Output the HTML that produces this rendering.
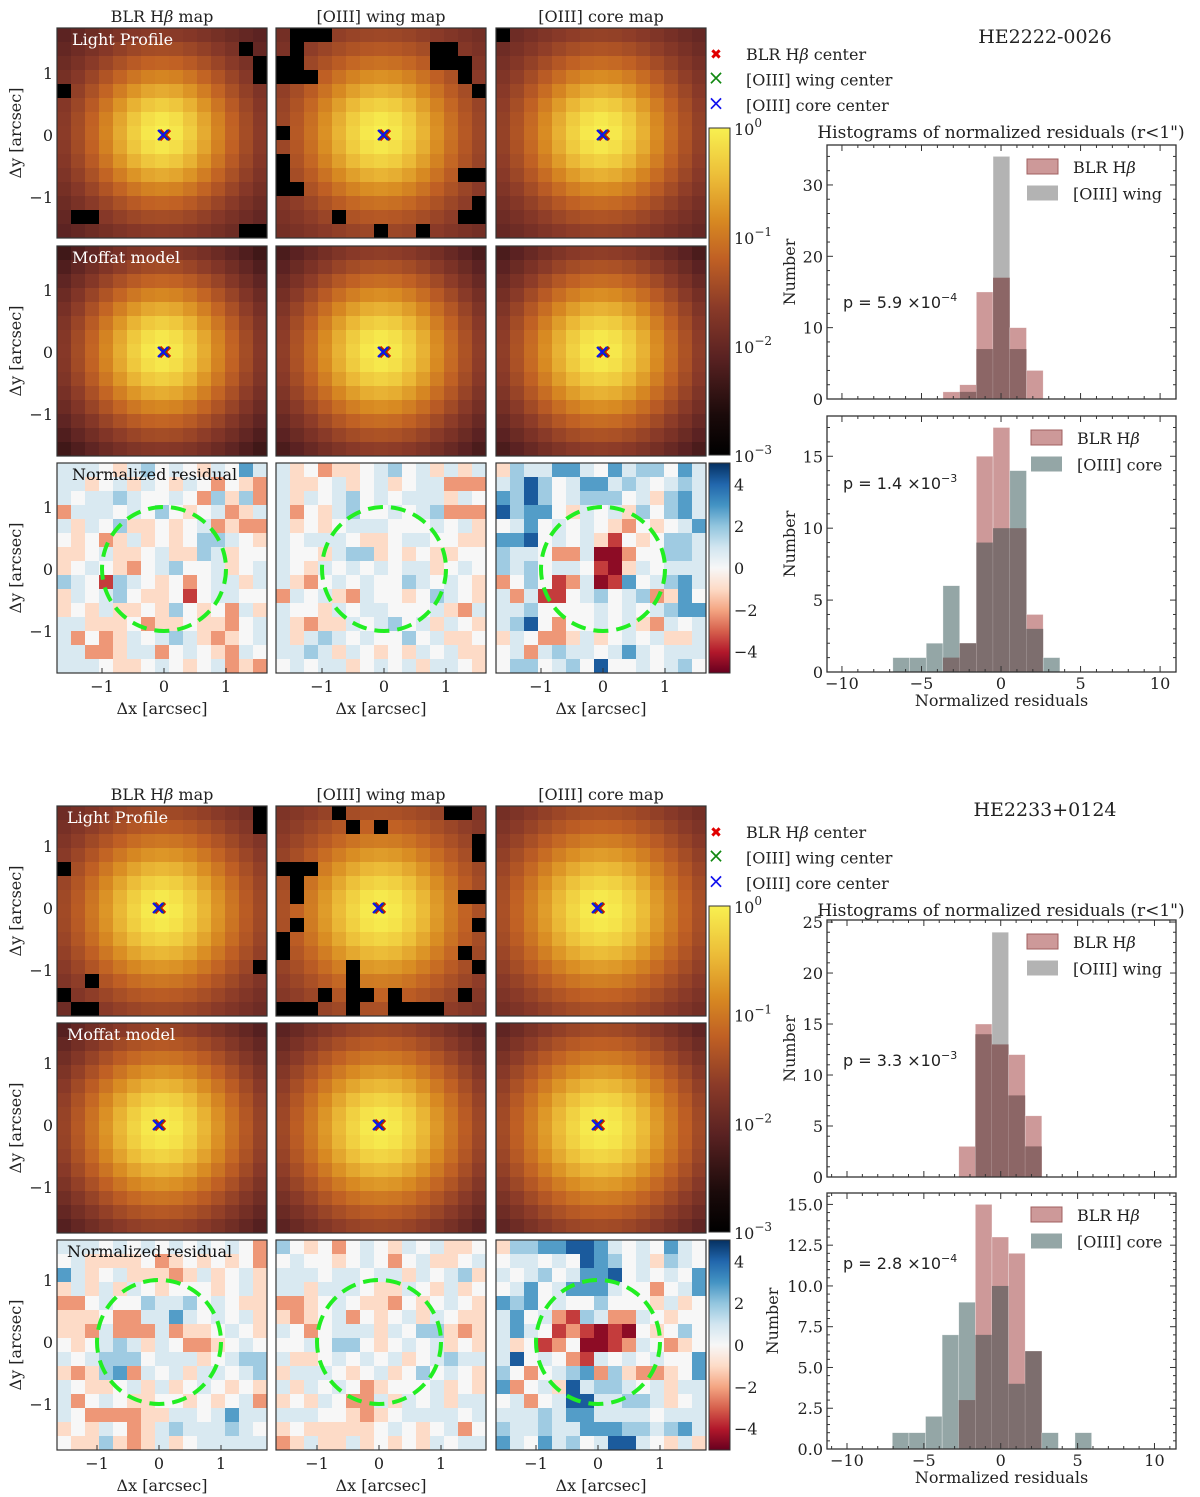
<!DOCTYPE html>
<html><head><meta charset="utf-8">
<style>
html,body{margin:0;padding:0;background:#fff;}
svg{display:block;}
text{font-family:"DejaVu Serif","Liberation Serif",serif;fill:#222;}
.dv{font-family:"DejaVu Serif","Liberation Serif",serif;}
.ds{font-family:"DejaVu Sans","Liberation Sans",sans-serif;}
</style></head>
<body>
<svg id="fig" xmlns="http://www.w3.org/2000/svg" width="1200" height="1497" viewBox="0 0 1200 1497">
<defs>
<linearGradient id="gLog" x1="0" y1="1" x2="0" y2="0">
<stop offset="0" stop-color="#000000"/><stop offset="0.12" stop-color="#1a0a0a"/><stop offset="0.3" stop-color="#5a2222"/><stop offset="0.45" stop-color="#8a3a28"/><stop offset="0.6" stop-color="#c06024"/><stop offset="0.72" stop-color="#d88a22"/><stop offset="0.85" stop-color="#ecbc38"/><stop offset="1" stop-color="#f8f050"/>
</linearGradient>
<linearGradient id="gRd" x1="0" y1="1" x2="0" y2="0">
<stop offset="0" stop-color="#67001f"/><stop offset="0.1" stop-color="#b2182b"/><stop offset="0.2" stop-color="#d6604d"/><stop offset="0.3" stop-color="#f4a582"/><stop offset="0.4" stop-color="#fddbc7"/><stop offset="0.5" stop-color="#f7f7f7"/><stop offset="0.6" stop-color="#d1e5f0"/><stop offset="0.7" stop-color="#92c5de"/><stop offset="0.8" stop-color="#4393c3"/><stop offset="0.9" stop-color="#2166ac"/><stop offset="1" stop-color="#053061"/>
</linearGradient>
</defs>
</svg>
<script>
// ---------- data ----------
const histXTicks = [-10,-5,0,5,10];
const h1Blr  = [0,0,0,1,2,15,17,10,4,0];
const h1Wing = [0,0,0,0,1,7,34,7,0,0];
const h2Blr  = [0,0,0,1,2,15,17,10,4,0];
const h2Core = [1,1,2,6,2,9,10,14,3,1];
const h3Blr  = [0,0,0,0,3,15,13,12,6,0,0,0];
const h3Wing = [0,0,0,0,0,14,24,8,3,0,0,0];
const h4Blr  = [0,0,0,0,3,15,13,12,6,0,0,0];
const h4Core = [1,1,2,7,9,7,10,4,6,1,0,1];
const h1YTicks = [0,10,20,30];
const h2YTicks = [0,5,10,15];
const h3YTicks = [0,5,10,15,20,25];
const h4YTicks = [0,2.5,5,7.5,10,12.5,15];
const h4YLabels = ["0.0","2.5","5.0","7.5","10.0","12.5","15.0"];
const pValues = ["5.9","1.4","3.3","2.8"];
const pExps = ["−4","−3","−3","−4"];

// profile params per panel [alpha, beta, floor]
const f1Light = [[0.8,2.5,0.004],[0.86,2.5,0.008],[0.84,2.5,0.005]];
const f1Model = [[0.82,2.5,0.0],[0.86,2.5,0.0],[0.86,2.5,0.0]];
const f2Light = [[0.9,2.5,0.005],[0.93,2.5,0.009],[0.95,2.5,0.005]];
const f2Model = [[0.9,2.5,0.0],[0.93,2.5,0.0],[0.95,2.5,0.0]];
const f1Black = [
 [[1,13],[2,14],[3,14],[4,0],[13,1],[13,2],[14,13],[14,14]],
 [[0,1],[0,2],[0,3],[1,1],[2,0],[2,1],[3,0],[3,1],[3,2],[1,11],[1,12],[2,11],[2,12],[2,13],[3,13],[4,14],[7,0],[9,0],[10,0],[11,0],[11,1],[10,13],[10,14],[12,14],[13,13],[13,14],[14,7],[14,10],[13,4]],
 [[0,0]]
];
const f2Black = [
 [[0,14],[1,14],[4,0],[11,14],[12,2],[13,0],[14,1],[14,2]],
 [[0,4],[0,12],[0,13],[1,5],[1,7],[2,14],[3,14],[4,0],[4,1],[4,2],[5,1],[6,1],[6,13],[6,14],[8,1],[8,14],[9,0],[10,0],[10,13],[11,5],[11,14],[12,5],[13,3],[13,5],[13,6],[13,8],[13,13],[14,0],[14,1],[14,2],[14,5],[14,8],[14,9],[14,10],[14,11]],
 []
];
const resCode = {R:-4.5,r:-3.5,o:-2.2,p:-1,'.':0,l:0.8,b:1.8,B:2.8,N:4.2};
const f1Res = [[
"lll.plb.l.pl.Bl","llp.lpl.pl.o.po","l.llbl..l.obpbo","olll.l.b.p.lopl","lpl.bpp.p.lopoo",
".p.oplp.p.bbl.p","pp.lpp.lppblp..","p.l.po.lb..lp.l","bl.rbl.p.o.llpl","pl.lb.pp.r.ll..",
"p.plpp.pb.p.olp","llppp.opp.ppo.l","lo.opl.lblpop.l","lloopllo.l.pol.","lll.pp.l.p.lopo"],[
"lp.opp.lb.lplpl","lpp.lp.lp.llooo","lpl.lb.l.lllpl.","lo.plb..l.lbooo","lp.p.lll...l.lp",
"l.lll.pp.ll..pp","l..plbbp.p.pp..","l.pl.l.l.llp.l.","lpo.l.l..bl.l.p","ol.lpol..p.bl.p",
"l..pl.ll...lpol","lpoppl.lb.lpl.p","lplbl.l..b.lpp.","llblpl.p.pl.lpp",".l.llp.l.lpll.p"],[
"pbllBBl.Blbb.Bl","lbNb.lBBlbl.lbl","BbNb.lbbb.lpbBl","NbBB.pl.lpb.bBl",".lB.l.l.po.p.lB",
"BBN.l.lpr.p.bbl","bll.oolRRo..bbl","blb.ll.rRpl.lll","o.b.rolRrB.lbBl","lolrr.lb.lbopB.",
"llb....l.l.lbBB","lbN.o..l.lpol.l","pl.ooplp.l.lppl",".lolbll.lBl.lll",".bb.lb.N..l.lb."]];
const f2Res = [[
"lll.l.l.l.l.l.o",".lpppp.op.p.p.o","Blp.lpppoplp.lp","plplpl.p...p.lp","oo.l..bllb.l.pp",
"ppp.oollBl.l.lp","ppolooolopp.l.p",".p.lblpl.oop.l.","l.lbbb.lllp.lbb","popbBol.lpll.lb",
"l.pp.lplp.l.p.p","lo.l.pp..p.p.lo","l.ooooppll.lBll","p.pl.oplblllbl.",".ppbpoplp.lllll"],[
"b.p.o.l.pl.lpp.",".l..p.l.o.lpp.l","lll.ll.llpl.lbp","llplll.ppl.plp.","oop.l.ppo.p.l.p",
"pop.lo.p.lpl.pp","l.o.lllpl.bbpop","..l.bb.p.l.lp.p","lpp.l.l.lp.lbll","plll.p.lp.b.l.p",
"lpl.l.op...lp.p","p.pl.oolpl.lpll","lll..pop.llll.l","p.ppppp.l.p.lo.","oplpplp.p.pl.ll"],[
"pbbBBNNBl.l.Bl.",".ll.l.NBb.lpbl.","l.lb.lBBN.l.l.B",".lB.lBBBl..o.lB","BbB.l..b...plp.",
"lB.lorblool.p..","lBl.rorRrR.p.b.","lp.ro.RRrol.op.","lN.l.orl.l.l..B","b.o.lbBobpoop.B",
"Bo.lpNlbbl.lpll",".lo.lNNllbblp.l","lllblBBllll.lll","bllbllBBBbblbBl","Bl.Blb.lNNl.plp"]];

// ---------- helpers ----------
const NS="http://www.w3.org/2000/svg";
const svg=document.getElementById('fig');
function mk(tag,attrs,parent){const e=document.createElementNS(NS,tag);for(const k in attrs)e.setAttribute(k,attrs[k]);(parent||svg).appendChild(e);return e;}
function hex(h){return [parseInt(h.slice(1,3),16),parseInt(h.slice(3,5),16),parseInt(h.slice(5,7),16)];}
const logStops=[[0,'#000000'],[0.12,'#1a0a0a'],[0.3,'#5a2222'],[0.45,'#8a3a28'],[0.6,'#c06024'],[0.72,'#d88a22'],[0.85,'#ecbc38'],[1,'#f8f050']];
function logColor(v){let t=(Math.log10(Math.max(v,1e-4))+3)/3;t=Math.max(0,Math.min(1,t));for(let i=0;i<logStops.length-1;i++){const [t0,c0]=logStops[i],[t1,c1]=logStops[i+1];if(t<=t1){const f=(t-t0)/(t1-t0);const a=hex(c0),b=hex(c1);return 'rgb('+a.map((x,k)=>Math.round(x+(b[k]-x)*f)).join(',')+')';}}return '#f8f050';}
const rdStops=['#67001f','#b2182b','#d6604d','#f4a582','#fddbc7','#f7f7f7','#d1e5f0','#92c5de','#4393c3','#2166ac','#053061'];
function rdColor(v){let t=(v+5)/10;t=Math.max(0,Math.min(1,t));const n=rdStops.length-1;const i=Math.min(n-1,Math.floor(t*n));const f=t*n-i;const a=hex(rdStops[i]),b=hex(rdStops[i+1]);return 'rgb('+a.map((x,k)=>Math.round(x+(b[k]-x)*f)).join(',')+')';}
function txt(x,y,s,attrs){const e=mk('text',Object.assign({x:x,y:y},attrs||{}));e.textContent=s;return e;}

const CELL=14,NPIX=15,PIXSZ=0.226,SCALE=62;

function drawProfilePanel(x0,y0,par,blacks,name){
  const g=mk('g',{});
  
  
  const bl=new Set(blacks.map(b=>b[0]+','+b[1]));
  for(let i=0;i<NPIX;i++)for(let j=0;j<NPIX;j++){
    const r=Math.hypot(i-7,j-7)*PIXSZ;
    let v=Math.pow(1+(r/par[0])**2,-par[1])+par[2];
    if(bl.has(i+','+j))v=0.0008;
    const c=mk('rect',{x:x0+j*CELL,y:y0+i*CELL,width:CELL+0.5,height:CELL+0.5,fill:logColor(v)},g);
    
    
  }
  const f=mk('rect',{x:x0,y:y0,width:210,height:210,fill:'none',stroke:'#333','stroke-width':1.2},g);
  
  
}
function drawResPanel(x0,y0,rows,name){
  const g=mk('g',{});
  
  
  for(let i=0;i<NPIX;i++)for(let j=0;j<NPIX;j++){
    const v=resCode[rows[i][j]]||0;
    const c=mk('rect',{x:x0+j*CELL,y:y0+i*CELL,width:CELL+0.5,height:CELL+0.5,fill:rdColor(v)},g);
    
    
  }
  const f=mk('rect',{x:x0,y:y0,width:210,height:210,fill:'none',stroke:'#333','stroke-width':1.2},g);
  
  
}
function markers(cx,cy){
  const g=mk('g',{});
  
  
  const d=5;
  [['#e00000',3.2,1],['#118811',2,0],['#1010ee',2.2,-1]].forEach(([c,w,o])=>{
    const p=mk('path',{d:`M${cx-d+o},${cy-d}L${cx+d+o},${cy+d}M${cx-d+o},${cy+d}L${cx+d+o},${cy-d}`,stroke:c,'stroke-width':w,fill:'none'},g);
    
    
  });
}
function circle(cx,cy){
  const c=mk('circle',{cx:cx,cy:cy,r:SCALE,fill:'none',stroke:'#22ee22','stroke-width':4,'stroke-dasharray':'15,8'});
  
  
}

function drawFigure(F){
  const colX=[57,276,496];
  const titles=['BLR Hβ map','[OIII] wing map','[OIII] core map'];
  titles.forEach((t,k)=>{
    const e=txt(colX[k]+105,F.titleY,'',{'text-anchor':'middle','font-size':16});
    e.innerHTML=t.replace('β','<tspan font-style="italic">β</tspan>');
    
    
  });
  for(let k=0;k<3;k++){
    drawProfilePanel(colX[k],F.rowY[0],F.light[k],F.black[k],'light-profile-panel');
    drawProfilePanel(colX[k],F.rowY[1],F.model[k],[],'moffat-model-panel');
    drawResPanel(colX[k],F.rowY[2],F.res[k],'residual-panel');
    markers(F.zeroX[k],F.zeroY[0]);
    markers(F.zeroX[k],F.zeroY[1]);
    circle(F.zeroX[k],F.zeroY[2]);
    [-1,0,1].forEach(v=>{
      const e=txt(F.zeroX[k]+v*SCALE,F.rowY[2]+229,v<0?'−1':String(v),{'text-anchor':'middle','font-size':16});
      
      
      mk('line',{x1:F.zeroX[k]+v*SCALE,x2:F.zeroX[k]+v*SCALE,y1:F.rowY[2]+210,y2:F.rowY[2]+205,stroke:'#333'});
    });
    const xl=txt(colX[k]+105,F.rowY[2]+251,'Δx [arcsec]',{'text-anchor':'middle','font-size':16});
    
    
  }
  for(let r=0;r<3;r++){
    [1,0,-1].forEach(v=>{
      const e=txt(53,F.zeroY[r]-v*SCALE+6,v<0?'−1':String(v),{'text-anchor':'end','font-size':16});
      
      
    });
    const yl=txt(0,0,'Δy [arcsec]',{'text-anchor':'middle','font-size':16,transform:`translate(21,${F.rowY[r]+105}) rotate(-90)`});
    
    
  }
  const lbls=[['Light Profile','#fff',0],['Moffat model','#fff',1],['Normalized residual','#111',2]];
  lbls.forEach(([s,c,r])=>{
    const e=txt(F.lblX,F.rowY[r]+17,s,{'font-size':16,fill:c,style:'fill:'+c});
    
    
  });
  const cb1=mk('rect',{x:709,y:F.cb1[0],width:21,height:F.cb1[1]-F.cb1[0],fill:'url(#gLog)',stroke:'#333'});
  
  
  ['0','−1','−2','−3'].forEach((ex,i)=>{
    const y=F.cb1[0]+i*(F.cb1[1]-F.cb1[0])/3;
    const e=txt(734,y+7,'',{'font-size':16});
    e.innerHTML='10<tspan dy="-8" font-size="12">'+ex+'</tspan>';
    
    
  });
  const cb2=mk('rect',{x:709,y:F.rowY[2],width:21,height:210,fill:'url(#gRd)',stroke:'#333'});
  
  
  [4,2,0,-2,-4].forEach(v=>{
    const y=F.rowY[2]+105-v*20.9;
    const e=txt(734,y+6,v<0?'−'+(-v):String(v),{'font-size':16});
    
    
  });
  const lg=[['BLR Hβ center','#e00000','✖'],['[OIII] wing center','#118811','×'],['[OIII] core center','#1010ee','×']];
  lg.forEach(([s,c,m],i)=>{
    const y=F.legY+i*25.5;
    const mkk=txt(716,y+5,m,{'text-anchor':'middle','font-size':m==='✖'?14:20,fill:c,style:'fill:'+c,class:'ds'});
    
    
    const e=txt(746,y+6,'',{'font-size':16});
    e.innerHTML=s.replace('β','<tspan font-style="italic">β</tspan>');
    
    
  });
  const t=txt(1045,F.nameY,F.name,{'text-anchor':'middle','font-size':19});
  
  
  const ht=txt(1001,F.histTitleY,'Histograms of normalized residuals (r<1")',{'text-anchor':'middle','font-size':17});
  
  
}

function drawHist(H){
  const {x0,x1,y0,y1,xmin,xmax,ymax}=H;
  const X=v=>x0+(v-xmin)/(xmax-xmin)*(x1-x0);
  const Y=v=>y1-v/ymax*(y1-y0);
  const g=mk('g',{});
  
  
  const bw=H.width;
  for(let k=0;k<H.blr.length;k++){
    const a=H.blr[k],b=H.other[k];
    const xa=X(H.start+k*bw),xb=X(H.start+(k+1)*bw);
    const hi=Math.max(a,b),lo=Math.min(a,b);
    if(hi>0){
      const r=mk('rect',{x:xa,y:Y(hi),width:xb-xa,height:Y(0)-Y(hi),fill:a>=b?'#cd9999':H.otherColor,stroke:'rgba(255,255,255,0.5)','stroke-width':0.6},g);
      
      
    }
    if(lo>0){
      const r=mk('rect',{x:xa,y:Y(lo),width:xb-xa,height:Y(0)-Y(lo),fill:H.overlapColor},g);
      
      
    }
  }
  const fr=mk('rect',{x:x0,y:y0,width:x1-x0,height:y1-y0,fill:'none',stroke:'#333','stroke-width':1.3},g);
  
  
  for(let v=-11;v<=11;v++){ if(v<xmin||v>xmax)continue;
    const maj=v%5===0,L=maj?6:3,x=X(v);
    mk('line',{x1:x,x2:x,y1:y1,y2:y1-L,stroke:'#333'},g);
    mk('line',{x1:x,x2:x,y1:y0,y2:y0+L,stroke:'#333'},g);
  }
  if(H.xlabels){histXTicks.forEach(v=>{
    const e=txt(X(v),y1+17,v<0?'−'+(-v):String(v),{'text-anchor':'middle','font-size':16,class:'dv'});
    
    
  });
    const xt=txt((x0+x1)/2,y1+34,'Normalized residuals',{'text-anchor':'middle','font-size':16});
    
    
  }
  for(let v=0;v<=ymax+1e-9;v+=H.minor){
    const y=Y(v);const maj=H.yticks.some(t=>Math.abs(t-v)<1e-6);const L=maj?6:3;
    mk('line',{x1:x0,x2:x0+L,y1:y,y2:y,stroke:'#333'},g);
    mk('line',{x1:x1,x2:x1-L,y1:y,y2:y,stroke:'#333'},g);
  }
  H.yticks.forEach((v,i)=>{
    const e=txt(x0-4,Y(v)+6,H.ylabels?H.ylabels[i]:String(v),{'text-anchor':'end','font-size':16,class:'dv'});
    
    
  });
  const yl=txt(0,0,'Number',{'text-anchor':'middle','font-size':16,transform:`translate(${H.ylx},${(y0+y1)/2}) rotate(-90)`});
  
  
  const pt=txt(843,H.pY,'',{'font-size':16,class:'ds'});
  pt.innerHTML='p = '+H.p+' ×10<tspan dy="-7" font-size="11">'+H.pe+'</tspan>';
  
  
  [['#cd9999','BLR Hβ'],[H.otherColor,H.otherName]].forEach(([c,s],i)=>{
    const y=y0+22+i*26.5;
    const p=mk('rect',{x:H.legX,y:y-8,width:31,height:15,fill:c,stroke:i===0?'#a06060':'none'},g);
    
    
    const e=txt(H.legX+46,y+6,'',{'font-size':16});
    e.innerHTML=s.replace('β','<tspan font-style="italic">β</tspan>');
    
    
  });
}

drawFigure({titleY:22,rowY:[28,246,463],zeroX:[164,384,603],zeroY:[135,352,569],lblX:72,
  light:f1Light,model:f1Model,black:f1Black,res:f1Res,cb1:[128,455],legY:54,name:'HE2222-0026',nameY:43,histTitleY:138});
drawFigure({titleY:800,rowY:[806,1023,1240],zeroX:[159,379,598],zeroY:[908,1125,1342],lblX:67,
  light:f2Light,model:f2Model,black:f2Black,res:f2Res,cb1:[906,1232],legY:832,name:'HE2233+0124',nameY:816,histTitleY:916});

drawHist({name:'hist-hb-vs-wing-1',x0:827,x1:1176,y0:145,y1:399,xmin:-10.94,xmax:11.0,ymax:35.6,start:-6.8,width:1.05,
  blr:h1Blr,other:h1Wing,otherColor:'#b3b3b3',overlapColor:'#8c6666',otherName:'[OIII] wing',yticks:h1YTicks,minor:2,
  xlabels:false,ylx:795,pY:308,p:pValues[0],pe:pExps[0],legX:1027});
drawHist({name:'hist-hb-vs-core-1',x0:827,x1:1176,y0:416,y1:672,xmin:-10.94,xmax:11.0,ymax:17.8,start:-6.8,width:1.05,
  blr:h2Blr,other:h2Core,otherColor:'#94a6a6',overlapColor:'#7d6e6e',otherName:'[OIII] core',yticks:h2YTicks,minor:1,
  xlabels:true,ylx:795,pY:489,p:pValues[1],pe:pExps[1],legX:1031});
drawHist({name:'hist-hb-vs-wing-2',x0:827,x1:1176,y0:920,y1:1177,xmin:-11.3,xmax:11.4,ymax:25.2,start:-7.05,width:1.08,
  blr:h3Blr,other:h3Wing,otherColor:'#b3b3b3',overlapColor:'#8c6666',otherName:'[OIII] wing',yticks:h3YTicks,minor:1,
  xlabels:false,ylx:795,pY:1066,p:pValues[2],pe:pExps[2],legX:1027});
drawHist({name:'hist-hb-vs-core-2',x0:827,x1:1176,y0:1193,y1:1449,xmin:-11.3,xmax:11.4,ymax:15.7,start:-7.05,width:1.08,
  blr:h4Blr,other:h4Core,otherColor:'#94a6a6',overlapColor:'#7d6e6e',otherName:'[OIII] core',yticks:h4YTicks,ylabels:h4YLabels,minor:0.5,
  xlabels:true,ylx:778,pY:1269,p:pValues[3],pe:pExps[3],legX:1031});
</script>
</body></html>
